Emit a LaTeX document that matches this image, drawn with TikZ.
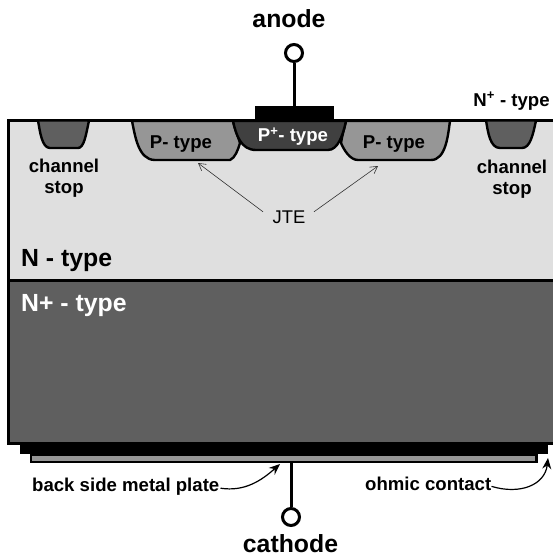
\documentclass[tikz,border=0pt]{standalone}
\usepackage{fontspec}
\setmainfont{Liberation Sans}
\usetikzlibrary{arrows.meta}
\definecolor{lite}{HTML}{DFDFDF}
\definecolor{midg}{HTML}{969696}
\definecolor{darkg}{HTML}{5F5F5F}
\definecolor{vdark}{HTML}{404040}
\tikzset{
  x=1pt,y=-1pt,
  well/.style={draw=black,line width=2.4pt,line join=round},
  wire/.style={draw=black,line width=3pt},
  term/.style={circle,draw=black,line width=3pt,fill=white,minimum size=17pt,inner sep=0pt},
  lab/.style={font=\bfseries\fontsize{18.6}{21}\selectfont,text=black,inner sep=0pt,align=center},
  big/.style={font=\bfseries\fontsize{24.8}{27}\selectfont,text=black,inner sep=0pt},
  jte/.style={font=\fontsize{18.4}{21}\selectfont,text=black,inner sep=0pt},
  thinarrow/.style={draw=black!80,line width=0.6pt,-{Straight Barb[length=7pt,width=8pt]}},
  curvearrow/.style={draw=black,line width=1.2pt,-{Stealth[length=11pt,width=9pt]}},
}
\begin{document}
\begin{tikzpicture}
\useasboundingbox (0,0) rectangle (553,555);
% back contact layers
\fill[black] (20,443) rectangle (548,454);
\fill[black] (30,454) rectangle (538,463);
\fill[midg] (32,456) rectangle (535,460.5);
% body
\fill[lite] (8,120) rectangle (553,280);
\fill[darkg] (8,280) rectangle (553,443);
\draw[line width=3pt] (553,120) -- (8,120) -- (8,443) -- (553,443);
\draw[line width=3pt] (8,280) -- (553,280);
% channel stops
\path[well,fill=darkg] (38,120.5) .. controls (40,132) and (42,148) .. (50,148) -- (78,148) .. controls (84,148) and (86,135) .. (89,120.5) -- cycle;
\path[well,fill=darkg] (486,120.5) .. controls (488,132) and (490,148) .. (500,148) -- (522,148) .. controls (530,148) and (533,135) .. (536,120.5) -- cycle;
% wells
\path[well,fill=midg] (132,121) .. controls (135,135) and (138,160) .. (155,160) -- (230,160) .. controls (235,158) and (238,150) .. (240,143) .. controls (238,136) and (235,130) .. (233,121) -- cycle;
\path[well,fill=midg] (450,121) .. controls (448,135) and (446,160) .. (431,160) -- (358,160) .. controls (350,160) and (344,150) .. (341,143) .. controls (342,136) and (344,130) .. (346,121) -- cycle;
\path[well,fill=vdark] (233,121) .. controls (236,135) and (241,150) .. (256,150) -- (328,150) .. controls (338,150) and (343,135) .. (346,121) -- cycle;
% metal
\fill[black] (255,106) rectangle (334,121);
% terminals
\node[term] (anodeT) at (294,53) {};
\coordinate (anodeM) at (294,106);
\draw[wire] (anodeT) -- (anodeM);
\node[term] (cathT) at (291,517) {};
\coordinate (cathM) at (291,463);
\draw[wire] (cathM) -- (cathT);
% labels
\node[big,anchor=base] (anodeL) at (289,27) {anode};
\node[big,anchor=base] (cathL) at (290.5,552.5) {cathode};
\node[lab,anchor=base] (pl) at (181,148) {P- type};
\node[lab,anchor=base] (pr) at (394,148) {P- type};
\node[lab,text=white,anchor=base] (pp) at (293,141.5) {P\textsuperscript{+}- type};
\node[lab,anchor=base] (cl) at (64,172) {channel};
\node[lab,anchor=base] (cl2) at (64,193) {stop};
\node[lab,anchor=base] (cr) at (512,173) {channel};
\node[lab,anchor=base] (cr2) at (512,194) {stop};
\node[lab,anchor=base] (nt) at (511.5,106) {N\textsuperscript{+} - type};
\node[jte,anchor=base] (jte) at (289,223) {JTE};
\node[big,anchor=base west] (nl) at (21,266) {N - type};
\node[big,anchor=base west,text=white] (npl) at (21,311) {N+ - type};
\node[lab,anchor=base west] (bs) at (32,491) {back side metal plate};
\node[lab,anchor=base west] (oh) at (365,490) {ohmic contact};
% arrows
\coordinate (jl) at (198,163);
\coordinate (jr) at (378,166);
\coordinate (bsE) at (280,464);
\coordinate (ohE) at (548,458);
\draw[thinarrow] (jte) ++(-26,-5) -- (jl);
\draw[thinarrow] (jte) ++(25,-5) -- (jr);
\draw[curvearrow] (bs.east) ++(1,2) .. controls (245,492) and (262,480) .. (bsE);
\draw[curvearrow] (oh.east) ++(0,3) .. controls (520,495) and (545,485) .. (ohE);
\end{tikzpicture}
\end{document}
